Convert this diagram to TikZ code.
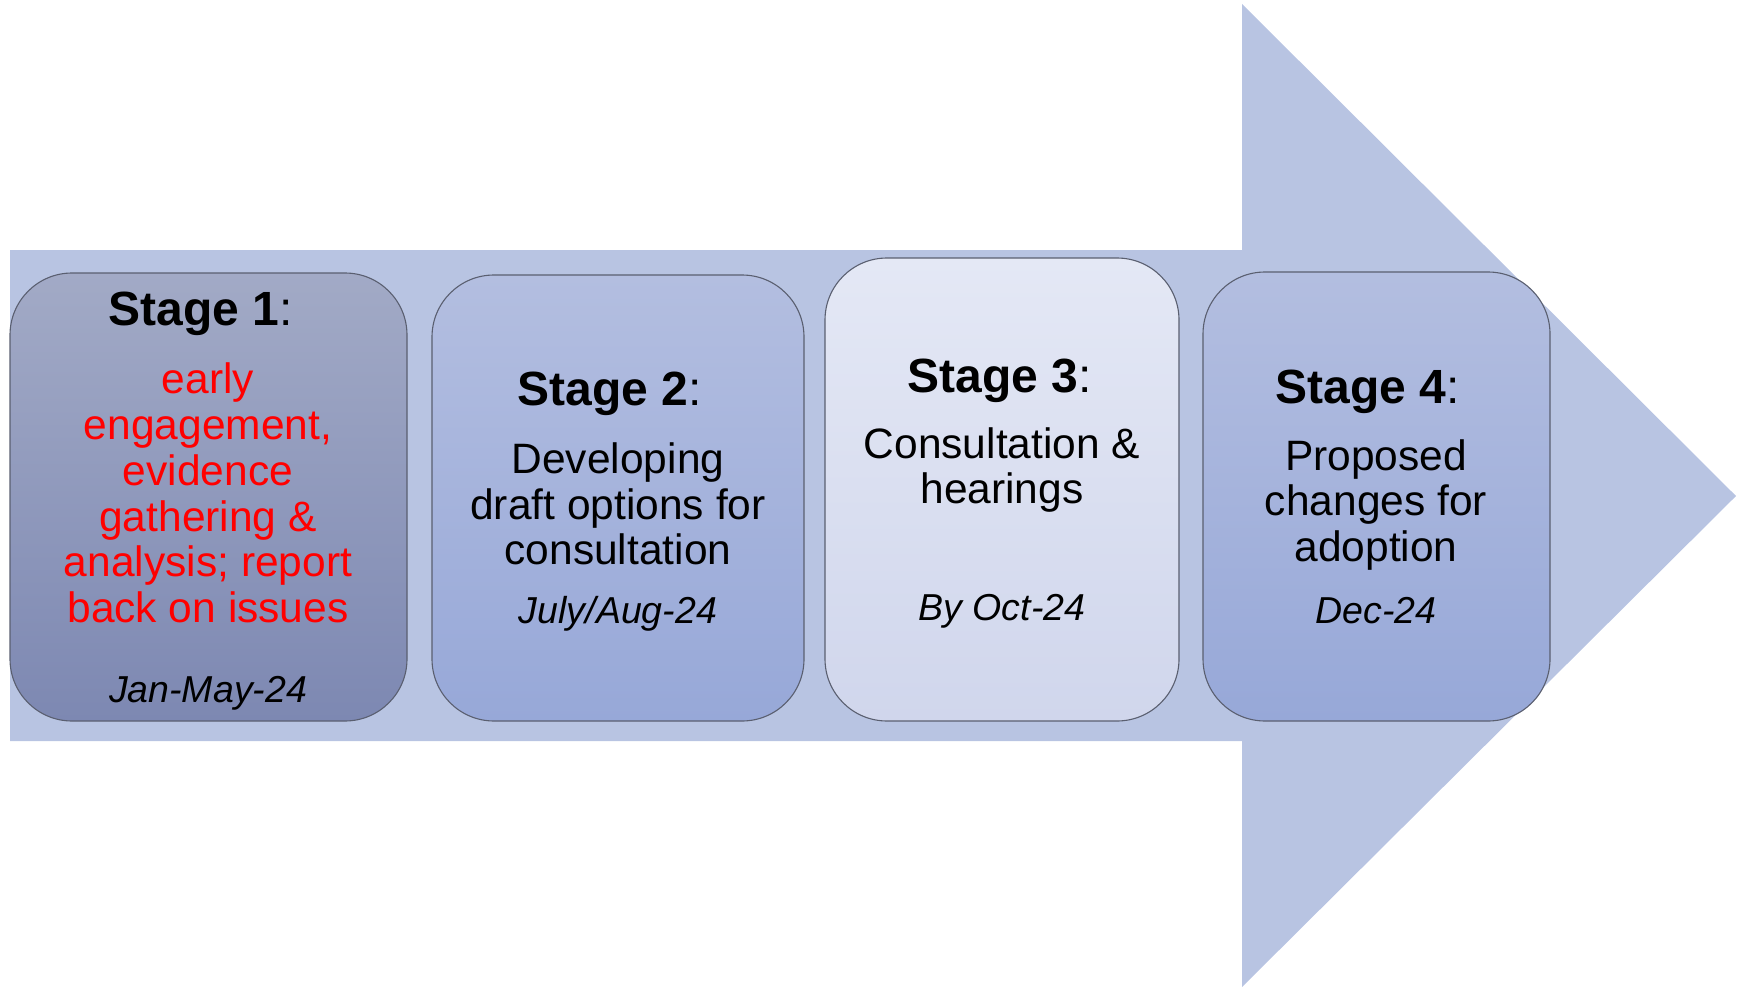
\documentclass[tikz,border=0pt]{standalone}
\usepackage{fontspec}
\setmainfont{Liberation Sans}
\definecolor{arrowcol}{HTML}{B8C4E2}
\definecolor{edgecol}{HTML}{5A5F70}
\definecolor{aTop}{HTML}{A2AAC6}
\definecolor{aBot}{HTML}{7D88B2}
\definecolor{bTop}{HTML}{B3BEE0}
\definecolor{bBot}{HTML}{97A8D8}
\definecolor{cTop}{HTML}{E4E8F5}
\definecolor{cBot}{HTML}{D0D6EC}
\definecolor{redtext}{HTML}{FF0000}
\tikzset{
  stagebox/.style={draw=edgecol, line width=1.1pt, rounded corners=62pt, inner sep=0pt},
  titletext/.style={font=\fontsize{48}{54}\selectfont, inner sep=0pt, anchor=center},
  bodytext/.style={font=\fontsize{42.5}{45.8}\selectfont, align=center, inner sep=0pt, anchor=center},
  datetext/.style={font=\fontsize{37.5}{42}\selectfont\itshape, inner sep=0pt, anchor=center},
}
\begin{document}
\begin{tikzpicture}[x=1pt, y=-1pt]
\useasboundingbox (0,0) rectangle (1745,987);
% big arrow
\fill[arrowcol] (10,250) -- (1242,250) -- (1242,4) -- (1736,496) -- (1242,987) -- (1242,741) -- (10,741) -- cycle;
% stage boxes
\node[stagebox, top color=aTop, bottom color=aBot, minimum width=397pt, minimum height=448pt] (box1) at (208.5,497) {};
\node[stagebox, top color=bTop, bottom color=bBot, minimum width=372pt, minimum height=446pt] (box2) at (618,498) {};
\node[stagebox, top color=cTop, bottom color=cBot, minimum width=354pt, minimum height=463pt] (box3) at (1002,489.5) {};
\node[stagebox, top color=bTop, bottom color=bBot, minimum width=347pt, minimum height=449pt] (box4) at (1376.5,496.5) {};
% texts box 1
\node[titletext] (t1) at (201,314) {\textbf{Stage 1}:};
\node[bodytext, text=redtext] (b1) at (208,493) {early\\engagement,\\evidence\\gathering \&\\analysis; report\\back on issues};
\node[datetext] (d1) at (208,693) {Jan-May-24};
% box 2
\node[titletext] (t2) at (610,394) {\textbf{Stage 2}:};
\node[bodytext] (b2) at (618,504) {Developing\\draft options for\\consultation};
\node[datetext] (d2) at (618,614) {July/Aug-24};
% box 3
\node[titletext] (t3) at (1000,381) {\textbf{Stage 3}:};
\node[bodytext] (b3) at (1002,470) {Consultation \&\\hearings};
\node[datetext] (d3) at (1002,611) {By Oct-24};
% box 4
\node[titletext] (t4) at (1368,392) {\textbf{Stage 4}:};
\node[bodytext] (b4) at (1376,505) {Proposed\\changes for\\adoption};
\node[datetext] (d4) at (1376,611) {Dec-24};
\end{tikzpicture}
\end{document}
